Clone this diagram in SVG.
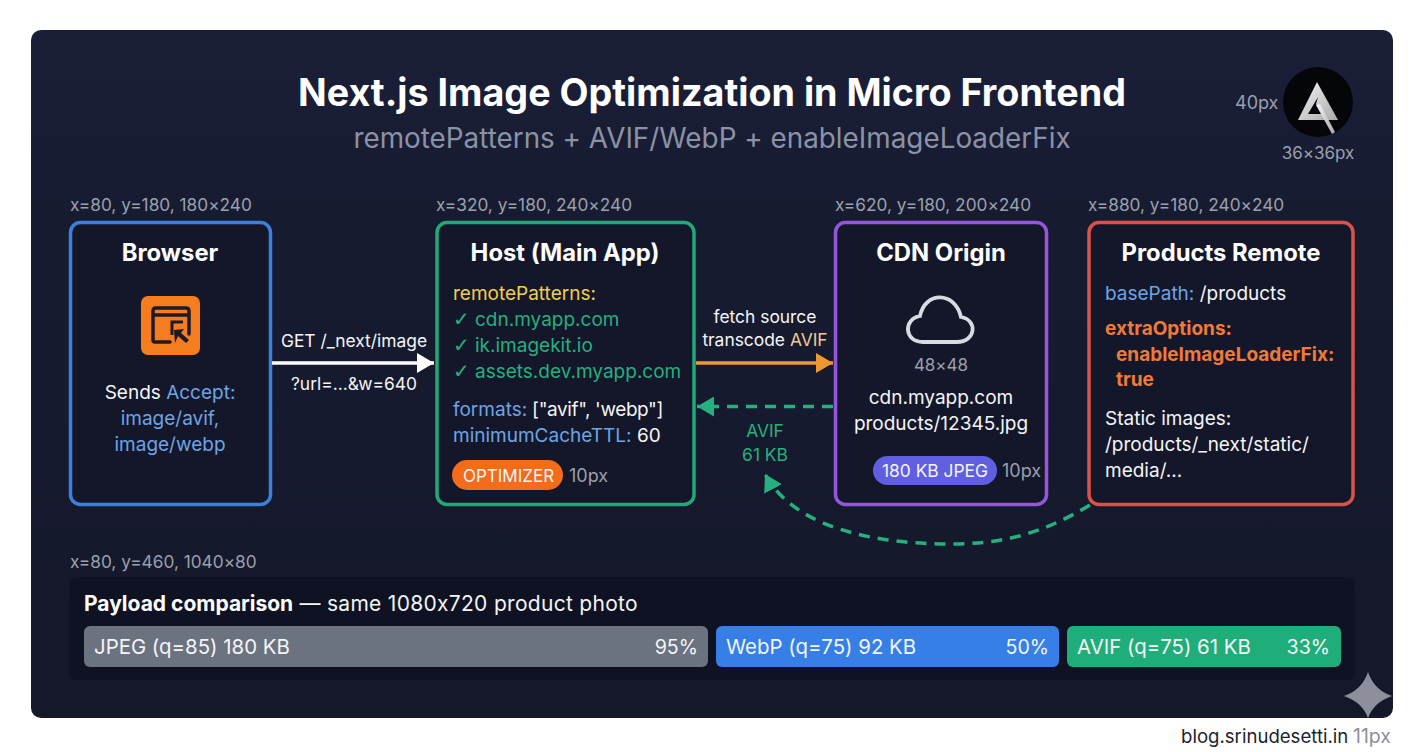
<svg xmlns="http://www.w3.org/2000/svg" width="1424" height="752" viewBox="0 0 1424 752">
<style>
text{font-family:Inter,"Noto Sans","Liberation Sans",sans-serif;fill:#f4f5f7;font-size:19px;font-feature-settings:"calt" 0}
.m{text-anchor:middle}.dim{fill:#9aa0ad;font-size:17.25px}.h{font-size:23.8px;font-weight:700;fill:#fff}
.b{fill:#6ea4e4}.g{fill:#25b07f}.y{fill:#f0cf4e}.o{fill:#f07a38;font-weight:700}
.node{fill:#14172a;stroke-width:3.5}
.c{font-size:17.4px}
.bar{font-size:20.4px;fill:#f4f5f7}
.pct{font-size:19.6px;fill:#f4f5f7;text-anchor:end}
.ck{font-family:"DejaVu Sans",sans-serif;font-weight:700;font-size:20px}
</style>
<defs>
<linearGradient id="bg" x1="0" y1="0" x2="0" y2="1"><stop offset="0" stop-color="#1a1f38"/><stop offset=".3" stop-color="#171b30"/><stop offset="1" stop-color="#15182a"/></linearGradient>
<linearGradient id="metal" x1="0" y1="0" x2="1" y2="1"><stop offset="0" stop-color="#f6f6f6"/><stop offset="1" stop-color="#a8a8a8"/></linearGradient>
<marker id="aw" markerUnits="userSpaceOnUse" markerWidth="18" markerHeight="20" refX="17" refY="10" orient="auto"><path d="M0 0L17 10L0 20Z" fill="#fff"/></marker>
<marker id="ao" markerUnits="userSpaceOnUse" markerWidth="18" markerHeight="20" refX="17" refY="10" orient="auto"><path d="M0 0L17 10L0 20Z" fill="#f0982f"/></marker>
<marker id="ag" markerUnits="userSpaceOnUse" markerWidth="18" markerHeight="20" refX="17" refY="10" orient="auto"><path d="M0 0L17 10L0 20Z" fill="#25b07f"/></marker>
</defs>
<rect width="1424" height="752" fill="#fff"/>
<rect x="31" y="30" width="1362" height="688" rx="10" fill="url(#bg)"/>
<text class="m" x="712" y="106" style="font-size:37.7px;font-weight:700;fill:#fff">Next.js Image Optimization in Micro Frontend</text>
<text class="m" x="712" y="148" style="font-size:27.85px;fill:#8b92a6">remotePatterns + AVIF/WebP + enableImageLoaderFix</text>
<g id="logo">
<text class="dim" x="1235" y="109" style="font-size:18px">40px</text>
<circle cx="1318" cy="102" r="35" fill="#05060a"/>
<path d="M1317 82L1338 120H1298Z M1318 97L1308 114H1322L1316 104Z" fill="url(#metal)" fill-rule="evenodd"/>
<path d="M1316 105L1320 104L1335 132L1332 134Z" fill="url(#metal)"/>
<text class="dim m" x="1318" y="159" style="font-size:17px">36×36px</text>
</g>
<text class="dim" x="70" y="211">x=80, y=180, 180×240</text>
<text class="dim" x="436" y="211">x=320, y=180, 240×240</text>
<text class="dim" x="835" y="211">x=620, y=180, 200×240</text>
<text class="dim" x="1088" y="211">x=880, y=180, 240×240</text>
<g id="browser">
<rect class="node" x="70.500" y="222.500" width="200" height="282" rx="10" stroke="#3d7fdc"/>
<text class="h m" x="170" y="261">Browser</text>
<rect x="141" y="296" width="59" height="59" rx="7" fill="#f57c1f"/>
<path d="M170 342H155Q153 342 153 340V311Q153 308 156 308H186Q189 308 189 311V334" fill="none" stroke="#1c1b26" stroke-width="3.500" stroke-linejoin="round" stroke-linecap="round"/>
<path d="M153 315H189" stroke="#1c1b26" stroke-width="3.500"/>
<path d="M183 322H172V335" fill="none" stroke="#1c1b26" stroke-width="3"/>
<path d="M174 330L184 329L181 333L189 340L186 343L178 336L175 343Z" fill="#1c1b26"/>
<text class="m" x="170" y="399">Sends <tspan class="b">Accept:</tspan></text>
<text class="m b" x="170" y="425">image/avif,</text>
<text class="m b" x="170" y="451">image/webp</text>
</g>
<g id="host">
<rect class="node" x="437" y="222.500" width="257" height="282" rx="10" stroke="#22a87a"/>
<text class="h m" x="565" y="261">Host (Main App)</text>
<text class="y" x="453" y="300">remotePatterns:</text>
<text class="g" x="453" y="326"><tspan class="ck g">✓</tspan><tspan x="475">cdn.myapp.com</tspan></text>
<text class="g" x="453" y="352"><tspan class="ck g">✓</tspan><tspan x="475">ik.imagekit.io</tspan></text>
<text class="g" x="453" y="378"><tspan class="ck g">✓</tspan><tspan x="475">assets.dev.myapp.com</tspan></text>
<text x="453" y="416"><tspan class="b">formats:</tspan><tspan letter-spacing="-.4"> ["avif", 'webp"]</tspan></text>
<text x="453" y="442"><tspan class="b">minimumCacheTTL:</tspan> 60</text>
<rect x="452" y="460" width="111" height="30" rx="15" fill="#f26c1a"/>
<text class="m" x="508.500" y="481.500" style="font-size:17px">OPTIMIZER</text>
<text class="dim" x="569" y="482" style="font-size:18px">10px</text>
</g>
<g id="cdn">
<rect class="node" x="835.500" y="222.500" width="211" height="282" rx="10" stroke="#9457dc"/>
<text class="h m" x="941" y="261">CDN Origin</text>
<path d="M923 342H957C976 342 978 320 961 317C955 291 925 291 920 316C903 319 904 342 923 342Z" fill="none" stroke="#d8dbe4" stroke-width="3.800"/>
<text class="dim m" x="941" y="371" style="font-size:17px">48×48</text>
<text class="m" x="941" y="404">cdn.myapp.com</text>
<text class="m" x="941" y="430">products/12345.jpg</text>
<rect x="873" y="456" width="124" height="29" rx="14.500" fill="#5f5fe0"/>
<text class="m c" x="935" y="477">180 KB JPEG</text>
<text class="dim" x="1002" y="477" style="font-size:18px">10px</text>
</g>
<g id="remote">
<rect class="node" x="1089" y="222.500" width="264" height="282" rx="10" stroke="#db5248"/>
<text class="h m" x="1221" y="261">Products Remote</text>
<text x="1105" y="300"><tspan class="b">basePath:</tspan> /products</text>
<text class="o" x="1105" y="335">extraOptions:</text>
<text class="o" x="1116" y="361">enableImageLoaderFix:</text>
<text class="o" x="1116" y="386">true</text>
<text x="1105" y="425">Static images:</text>
<text x="1105" y="451">/products/_next/static/</text>
<text x="1105" y="477">media/...</text>
</g>
<g id="connectors" fill="none">
<path d="M272 363H434" stroke="#fff" stroke-width="3.500" marker-end="url(#aw)"/>
<path d="M696 363H833" stroke="#f0982f" stroke-width="3.500" marker-end="url(#ao)"/>
<path d="M833 406.500H697" stroke="#25b07f" stroke-width="3.500" stroke-dasharray="11 8" marker-end="url(#ag)"/>
<path d="M1090 505C1040 535 1000 544 950 544C880 544 795 530 765 474" stroke="#25b07f" stroke-width="3.500" stroke-dasharray="11 8" marker-end="url(#ag)"/>
</g>
<g id="labels">
<text class="m c" x="354" y="347">GET /_next/image</text>
<text class="m c" x="354" y="390">?url=...&amp;w=640</text>
<text class="m c" x="765" y="323">fetch source</text>
<text class="m c" x="765" y="346">transcode <tspan fill="#f3c898">AVIF</tspan></text>
<text class="m g c" x="765" y="437">AVIF</text>
<text class="m g c" x="765" y="461">61 KB</text>
</g>
<g id="payload">
<text class="dim" x="70" y="568">x=80, y=460, 1040×80</text>
<rect x="69" y="577" width="1286" height="103" rx="8" fill="#0f1222"/>
<text x="84" y="611" style="font-size:21px"><tspan font-weight="700" fill="#fff">Payload comparison</tspan><tspan letter-spacing=".3"> — same 1080x720 product photo</tspan></text>
<rect x="84" y="626" width="624" height="41" rx="6" fill="#6b7280"/>
<text class="bar" x="94" y="654">JPEG (q=85) 180 KB</text>
<text class="pct" x="698" y="654">95%</text>
<rect x="716" y="626" width="343" height="41" rx="6" fill="#357fe6"/>
<text class="bar" x="726" y="654">WebP (q=75) 92 KB</text>
<text class="pct" x="1049" y="654">50%</text>
<rect x="1067" y="626" width="274" height="41" rx="6" fill="#1fae79"/>
<text class="bar" x="1077" y="654">AVIF (q=75) 61 KB</text>
<text class="pct" x="1330" y="654">33%</text>
</g>
<path id="sparkle" d="M1368 672Q1374 690 1392 696Q1374 702 1368 718Q1362 702 1344 696Q1362 690 1368 672Z" fill="#8d909c"/>
<text x="1181" y="743" style="font-size:18.6px;fill:#1b1f2c">blog.srinudesetti.in</text>
<text x="1353" y="743" style="font-size:19.5px;fill:#8d909c">11px</text>
</svg>
